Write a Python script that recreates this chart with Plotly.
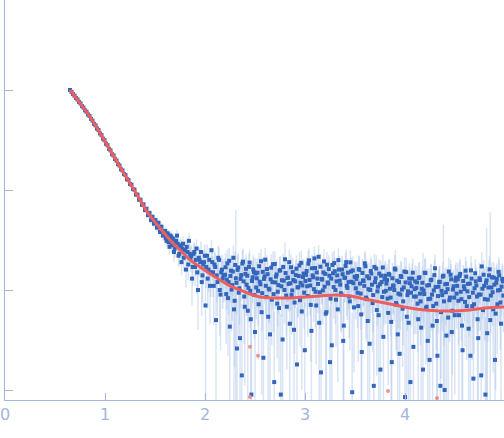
import plotly.graph_objects as go

# scattering curve, intensity in arbitrary units (first point = 1000)
q_low = [0.650, 0.665, 0.680, 0.695, 0.710, 0.725, 0.740, 0.755, 0.770, 0.785,
         0.800, 0.815, 0.830, 0.845, 0.860, 0.875, 0.890, 0.905, 0.920, 0.935,
         0.950, 0.965, 0.980, 0.995, 1.010, 1.025, 1.040, 1.055, 1.070, 1.085,
         1.100, 1.115, 1.130, 1.145, 1.160, 1.175, 1.190, 1.205, 1.220, 1.235,
         1.250, 1.265, 1.280, 1.295, 1.310, 1.325, 1.340, 1.355, 1.370, 1.385,
         1.400, 1.415, 1.430, 1.445, 1.460, 1.475, 1.490, 1.505, 1.520, 1.535,
         1.550, 1.565, 1.580]
i_low = [1000, 958, 910, 878, 831, 804, 760, 733, 690, 667,
         626, 606, 569, 550, 514, 494, 459, 443, 411, 397,
         368, 354, 326, 315, 290, 280, 258, 249, 228, 222,
         204, 197, 181, 176, 161, 157, 144, 141, 128, 126,
         115, 113, 102, 101, 90, 90, 80, 80, 71, 72,
         63, 65, 56, 59, 50, 54, 46, 50, 42, 47,
         38, 43, 35]
e_low = [6, 6, 6, 6, 5, 5, 5, 5, 5, 5, 5, 5, 4, 4, 4, 4, 4, 4, 4, 4,
         4, 4, 4, 4, 3, 3, 3, 3, 3, 3, 3, 3, 3, 3, 3, 3, 3, 3, 3, 3,
         3, 3, 3, 3, 3, 3, 3, 3, 3, 3, 3.5, 3.5, 3.5, 3.5, 4, 4, 4, 4, 4, 4,
         4, 4, 4]

q_mid = [1.600, 1.615, 1.630, 1.645, 1.660, 1.675, 1.690, 1.705, 1.720, 1.735,
         1.750, 1.765, 1.780, 1.795, 1.810, 1.825, 1.840, 1.855, 1.870, 1.885,
         1.900, 1.915, 1.930, 1.945, 1.960, 1.975, 1.990, 2.005, 2.020, 2.035,
         2.050, 2.065, 2.080, 2.095, 2.110, 2.125, 2.140, 2.155, 2.170, 2.185,
         1.6075, 1.6225, 1.6375, 1.6525, 1.6675, 1.6825, 1.6975, 1.7125, 1.7275, 1.7425,
         1.7575, 1.7725, 1.7875, 1.8025, 1.8175, 1.8325, 1.8475, 1.8625, 1.8775, 1.8925,
         1.9075, 1.9225, 1.9375, 1.9525, 1.9675, 1.9825, 1.9975, 2.0125, 2.0275, 2.0425,
         2.0575, 2.0725, 2.0875, 2.1025, 2.1175, 2.1325, 2.1475, 2.1625, 2.1775]
i_mid = [39, 31, 36, 27, 34, 33, 24, 30, 35, 22,
         27, 19, 29, 25, 16, 24, 31, 21, 13, 23,
         17, 26, 10, 20, 24, 14, 19, 7, 22, 16,
         11, 25, 15, 18, 5, 12, 20, 9, 16, 14,
         33, 37, 30, 35, 28, 32, 26, 31, 29, 23,
         28, 26, 21, 25, 27, 18, 23, 22, 17, 24,
         20, 15, 21, 19, 12, 18, 22, 17, 13, 20,
         15, 19, 11, 17, 14, 21, 10, 15, 13]
e_mid = [4, 4, 4, 4.5, 4.5, 4.5, 5, 5, 5, 5, 5, 5, 5.5, 5.5, 5.5, 5.5, 6, 6, 6, 6,
         6, 6, 6, 6, 6.5, 6.5, 6.5, 6.5, 6.5, 6.5, 6.5, 6.5, 6.5, 6.5, 6.5, 6.5,
         6.5, 6.5, 6.5, 6.5,
         4, 4, 4, 4.5, 4.5, 4.5, 5, 5, 5, 5, 5, 5, 5.5, 5.5, 5.5, 5.5, 6, 6, 6, 6,
         6, 6, 6, 6, 6.5, 6.5, 6.5, 6.5, 6.5, 6.5, 6.5, 6.5, 6.5, 6.5, 6.5, 6.5,
         6.5, 6.5, 6.5]

q_high = [2.200, 2.212, 2.224, 2.236, 2.248, 2.260, 2.272, 2.284, 2.296,
          2.308, 2.320, 2.332, 2.344, 2.356, 2.368, 2.380, 2.392, 2.404,
          2.416, 2.428, 2.440, 2.452, 2.464, 2.476, 2.488, 2.500,
          2.512, 2.524, 2.536, 2.548, 2.560, 2.572, 2.584, 2.596, 2.608, 2.620,
          2.632, 2.644, 2.656, 2.668, 2.680, 2.692, 2.704, 2.716, 2.728, 2.740,
          2.752, 2.764, 2.776, 2.788, 2.800, 2.812, 2.824, 2.836, 2.848, 2.860,
          2.872, 2.884, 2.896, 2.908, 2.920, 2.932, 2.944, 2.956, 2.968, 2.980,
          2.992,
          3.004, 3.016, 3.028, 3.040, 3.052, 3.064, 3.076, 3.088, 3.100, 3.112,
          3.124, 3.136, 3.148, 3.160, 3.172, 3.184, 3.196, 3.208, 3.220, 3.232,
          3.244, 3.256, 3.268, 3.280, 3.292, 3.304, 3.316, 3.328, 3.340, 3.352,
          3.364, 3.376, 3.388, 3.400, 3.412, 3.424, 3.436, 3.448, 3.460, 3.472,
          3.484, 3.496,
          3.508, 3.520, 3.532, 3.544, 3.556, 3.568, 3.580, 3.592, 3.604, 3.616,
          3.628, 3.640, 3.652, 3.664, 3.676, 3.688, 3.700, 3.712, 3.724, 3.736,
          3.748, 3.760, 3.772, 3.784, 3.796,
          3.808, 3.820, 3.832, 3.844, 3.856, 3.868, 3.880, 3.892, 3.904, 3.916,
          3.928, 3.940, 3.952, 3.964, 3.976, 3.988, 4.000, 4.012, 4.024, 4.036,
          4.048, 4.060, 4.072, 4.084, 4.096,
          4.108, 4.120, 4.132, 4.144, 4.156, 4.168, 4.180, 4.192, 4.204, 4.216,
          4.228, 4.240, 4.252, 4.264, 4.276, 4.288, 4.300, 4.312, 4.324, 4.336,
          4.348, 4.360, 4.372, 4.384, 4.396, 4.408, 4.420, 4.432, 4.444, 4.456,
          4.468, 4.480, 4.492, 4.504,
          4.516, 4.528, 4.540, 4.552, 4.564, 4.576, 4.588, 4.600, 4.612, 4.624,
          4.636, 4.648, 4.660, 4.672, 4.684, 4.696, 4.708, 4.720, 4.732, 4.744,
          4.756, 4.768, 4.780, 4.792, 4.804, 4.816, 4.828, 4.840, 4.852, 4.864,
          4.876, 4.888, 4.900, 4.912, 4.924, 4.936, 4.948, 4.960, 4.972, 4.984]
i_high = [14.2, 9.1, 18.5, 12.0, 4.3, 15.6, 11.2, 21.0, 7.8,
          13.1, 2.6, 16.8, 10.4, 12.9, 1.4, 19.2, 8.6, 14.5,
          11.3, 6.2, 17.0, 9.8, 0.9, 13.4, 15.1, 3.8,
          10.6, 14.9, 7.2, 12.1, 19.4, 9.3, 2.1, 13.7, 11.0, 16.2,
          5.4, 10.1, 12.8, 8.0, 18.1, 1.2, 11.9, 14.3, 9.6, 6.6,
          15.8, 10.9, 3.2, 12.4, 20.3, 8.8, 13.2, 11.5, 4.6, 16.9,
          9.9, 12.6, 7.5, 14.1, 1.8, 10.7, 17.6, 11.8, 6.1, 13.5,
          9.4,
          12.3, 15.5, 8.7, 19.8, 11.1, 3.9, 14.0, 10.2, 16.6, 7.0,
          13.0, 21.5, 9.5, 1.5, 12.7, 15.0, 10.8, 5.8, 17.9, 11.6,
          13.9, 8.2, 2.8, 14.7, 18.6, 10.0, 12.2, 6.4, 16.0, 11.3,
          9.0, 14.4, 4.4, 13.3, 19.0, 10.5, 12.0, 7.7, 15.3, 0.95,
          11.7, 13.6,
          10.4, 13.8, 6.9, 15.9, 9.2, 2.4, 12.5, 11.0, 17.3, 8.1,
          4.9, 13.1, 10.0, 14.6, 7.4, 1.1, 12.0, 16.4, 9.7, 5.6,
          11.4, 13.9, 8.5, 3.4, 12.8,
          9.8, 12.6, 5.9, 14.2, 8.4, 1.9, 11.1, 10.0, 16.0, 7.1,
          3.6, 12.0, 9.0, 13.5, 6.5, 10.6, 0.85, 15.1, 8.9, 4.7,
          11.7, 9.4, 13.0, 2.7, 10.2,
          8.6, 11.9, 5.1, 13.4, 7.7, 10.3, 1.6, 9.1, 14.8, 6.8,
          3.1, 11.2, 8.2, 12.7, 4.4, 9.9, 16.5, 7.3, 2.2, 10.8,
          12.1, 6.0, 8.9, 13.9, 1.0, 9.5, 11.5, 5.3, 7.9, 14.2,
          3.8, 10.1, 8.4, 12.4,
          9.2, 12.8, 5.6, 14.5, 8.1, 2.5, 10.9, 7.6, 13.6, 9.7,
          4.1, 11.6, 15.7, 6.9, 1.3, 10.4, 12.2, 8.6, 3.3, 13.1,
          9.0, 17.2, 6.3, 11.0, 0.9, 12.5, 8.0, 14.0, 5.0, 10.6,
          9.5, 13.3, 2.0, 11.8, 7.2, 15.2, 10.0, 4.6, 12.9, 8.8]
e_high = [6.5, 6.2, 6.8, 6.4, 6.0, 6.6, 6.3, 7.0, 6.1,
          50, 5.6, 6.4, 5.9, 6.2, 5.8, 6.6, 5.7, 6.3,
          5.8, 5.5, 6.2, 5.6, 5.4, 6.0, 5.9, 5.3,
          5.5, 5.9, 5.2, 5.6, 6.3, 5.4, 5.0, 5.8, 5.3, 6.0,
          5.1, 5.5, 5.7, 5.2, 6.1, 4.9, 5.4, 5.8, 5.3, 5.1,
          5.9, 5.5, 5.0, 5.6, 9.5, 5.3, 5.7, 5.4, 5.0, 6.0,
          5.4, 5.6, 5.2, 5.8, 4.9, 5.3, 6.2, 5.5, 5.1, 5.7,
          5.3,
          5.6, 5.9, 5.3, 6.4, 5.5, 5.1, 5.8, 5.4, 6.0, 5.2,
          5.7, 6.6, 5.4, 5.0, 5.6, 5.9, 5.5, 5.2, 6.2, 5.6,
          5.8, 5.3, 5.0, 5.9, 6.3, 5.4, 5.7, 5.2, 6.0, 5.5,
          5.3, 5.8, 5.1, 5.7, 6.4, 5.5, 5.6, 5.2, 5.9, 5.0,
          5.5, 5.8,
          5.3, 5.7, 5.0, 5.9, 5.2, 4.8, 5.5, 5.4, 6.1, 5.1,
          4.9, 5.6, 5.2, 5.8, 5.0, 4.7, 5.4, 6.0, 5.3, 4.9,
          5.4, 5.7, 5.1, 4.8, 5.5,
          5.2, 5.6, 4.8, 5.9, 5.0, 4.6, 5.3, 5.1, 9.0, 4.9,
          4.7, 5.4, 5.0, 5.7, 4.8, 5.2, 4.5, 6.0, 5.0, 4.7,
          5.3, 5.1, 5.5, 4.6, 5.2,
          5.0, 5.5, 4.7, 5.7, 4.9, 5.2, 22, 5.0, 6.0, 4.8,
          4.6, 5.3, 4.9, 5.6, 4.6, 5.1, 6.2, 4.8, 4.5, 5.2,
          5.4, 4.7, 5.0, 31, 4.4, 5.1, 5.3, 4.7, 4.9, 5.9,
          4.6, 5.1, 4.9, 5.5,
          5.1, 5.7, 4.8, 6.0, 5.0, 4.6, 5.3, 4.9, 5.8, 5.1,
          4.7, 5.4, 6.2, 4.9, 4.5, 5.2, 5.5, 5.0, 4.6, 5.6,
          5.1, 6.6, 4.9, 5.3, 4.5, 29, 5.0, 5.8, 55, 5.2,
          5.1, 5.6, 4.6, 5.4, 4.9, 6.1, 5.2, 4.7, 5.5, 5.0]

# second, interleaved run of the high-q points
q_high2 = [2.206, 2.218, 2.230, 2.242, 2.254, 2.266, 2.278, 2.290, 2.302,
           2.314, 2.326, 2.338, 2.350, 2.362, 2.374, 2.386, 2.398, 2.410,
           2.422, 2.434, 2.446, 2.458, 2.470, 2.482, 2.494, 2.506,
           2.518, 2.530, 2.542, 2.554, 2.566, 2.578, 2.590, 2.602, 2.614, 2.626,
           2.638, 2.650, 2.662, 2.674, 2.686, 2.698, 2.710, 2.722, 2.734, 2.746,
           2.758, 2.770, 2.782, 2.794, 2.806, 2.818, 2.830, 2.842, 2.854, 2.866,
           2.878, 2.890, 2.902, 2.914, 2.926, 2.938, 2.950, 2.962, 2.974, 2.986,
           2.998,
           3.010, 3.022, 3.034, 3.046, 3.058, 3.070, 3.082, 3.094, 3.106, 3.118,
           3.130, 3.142, 3.154, 3.166, 3.178, 3.190, 3.202, 3.214, 3.226, 3.238,
           3.250, 3.262, 3.274, 3.286, 3.298, 3.310, 3.322, 3.334, 3.346, 3.358,
           3.370, 3.382, 3.394, 3.406, 3.418, 3.430, 3.442, 3.454, 3.466, 3.478,
           3.490, 3.502,
           3.514, 3.526, 3.538, 3.550, 3.562, 3.574, 3.586, 3.598, 3.610, 3.622,
           3.634, 3.646, 3.658, 3.670, 3.682, 3.694, 3.706, 3.718, 3.730, 3.742,
           3.754, 3.766, 3.778, 3.790, 3.802,
           3.814, 3.826, 3.838, 3.850, 3.862, 3.874, 3.886, 3.898, 3.910, 3.922,
           3.934, 3.946, 3.958, 3.970, 3.982, 3.994, 4.006, 4.018, 4.030, 4.042,
           4.054, 4.066, 4.078, 4.090, 4.102,
           4.114, 4.126, 4.138, 4.150, 4.162, 4.174, 4.186, 4.198, 4.210, 4.222,
           4.234, 4.246, 4.258, 4.270, 4.282, 4.294, 4.306, 4.318, 4.330, 4.342,
           4.354, 4.366, 4.378, 4.390, 4.402, 4.414, 4.426, 4.438, 4.450, 4.462,
           4.474, 4.486, 4.498, 4.510,
           4.522, 4.534, 4.546, 4.558, 4.570, 4.582, 4.594, 4.606, 4.618, 4.630,
           4.642, 4.654, 4.666, 4.678, 4.690, 4.702, 4.714, 4.726, 4.738, 4.750,
           4.762, 4.774, 4.786, 4.798, 4.810, 4.822, 4.834, 4.846, 4.858, 4.870,
           4.882, 4.894, 4.906, 4.918, 4.930, 4.942, 4.954, 4.966, 4.978]
i_high2 = [16.9, 12.7, 8.3, 19.6, 13.8, 10.1, 15.3, 6.4, 17.8,
           11.8, 15.9, 9.4, 3.3, 14.1, 18.4, 12.2, 6.8, 16.3,
           13.9, 10.5, 18.8, 5.1, 12.3, 16.1, 8.9, 14.6,
           13.1, 9.8, 17.3, 11.4, 6.0, 15.2, 12.9, 20.1, 8.5, 14.4,
           10.3, 3.6, 16.7, 12.0, 9.1, 18.2, 13.6, 7.3, 11.2, 15.6,
           0.9, 12.5, 17.0, 10.0, 14.8, 6.8, 13.3, 19.0, 11.7, 8.9,
           15.1, 4.0, 12.2, 16.3, 10.6, 13.8, 7.9, 18.7, 11.1, 14.6,
           2.5,
           14.2, 10.9, 18.3, 12.6, 7.1, 16.5, 13.4, 20.7, 9.6, 15.0,
           11.5, 4.7, 17.1, 12.9, 9.9, 19.3, 14.5, 6.0, 11.9, 16.2,
           1.9, 13.0, 17.8, 10.7, 15.4, 8.0, 14.0, 19.9, 12.4, 9.3,
           16.0, 3.1, 13.2, 17.4, 11.0, 14.9, 8.6, 18.9, 12.1, 15.7,
           6.7, 13.5,
           12.9, 9.4, 16.2, 11.6, 5.7, 14.8, 12.3, 18.5, 8.4, 13.7,
           10.2, 2.9, 15.5, 11.3, 8.9, 17.0, 13.1, 6.3, 10.8, 14.6,
           1.6, 12.0, 16.8, 9.6, 13.9,
           11.6, 8.2, 14.5, 10.3, 4.8, 13.1, 11.0, 16.4, 7.4, 12.4,
           9.2, 2.3, 13.8, 10.1, 7.7, 15.3, 11.9, 5.4, 9.7, 13.0,
           1.2, 10.9, 14.9, 8.6, 12.2,
           10.5, 7.3, 13.2, 9.2, 4.2, 11.8, 9.9, 14.9, 6.6, 11.1,
           8.1, 2.0, 12.5, 9.0, 6.9, 14.1, 10.7, 4.9, 8.7, 12.0,
           1.1, 9.8, 13.6, 7.7, 11.4, 3.5, 10.2, 15.3, 8.4, 12.8,
           6.2, 10.9, 5.6, 13.3,
           11.0, 7.8, 13.8, 9.6, 4.4, 12.3, 10.2, 15.6, 6.9, 11.5,
           8.5, 2.2, 13.0, 9.4, 7.2, 14.7, 11.1, 5.1, 9.0, 12.6,
           1.4, 10.3, 14.2, 8.1, 11.8, 3.7, 10.6, 16.1, 8.8, 13.4,
           6.4, 11.3, 5.8, 12.9, 9.9, 14.0, 7.5, 10.8, 12.2]
e_high2 = [6.6, 6.3, 6.1, 6.9, 6.4, 6.2, 6.7, 6.0, 6.8,
           6.1, 6.5, 5.9, 5.6, 6.3, 6.7, 6.0, 5.7, 6.4,
           6.0, 5.7, 6.4, 5.4, 5.9, 6.2, 5.6, 6.1,
           5.8, 5.4, 6.1, 5.6, 5.1, 5.9, 5.7, 6.3, 5.3, 5.8,
           5.5, 4.9, 6.0, 5.6, 5.3, 6.2, 5.8, 5.2, 5.5, 5.9,
           4.8, 5.6, 6.0, 5.4, 5.8, 5.2, 5.7, 6.2, 5.5, 5.3,
           5.9, 4.9, 5.6, 6.0, 5.4, 5.7, 5.2, 6.1, 5.5, 5.8,
           5.0,
           5.9, 5.5, 6.2, 5.7, 5.2, 6.0, 5.8, 6.4, 5.4, 5.9,
           5.6, 5.0, 6.1, 5.7, 5.4, 6.3, 5.9, 5.2, 5.6, 6.0,
           4.9, 5.7, 6.1, 5.5, 5.9, 5.3, 5.8, 6.3, 5.6, 5.4,
           6.0, 5.0, 5.7, 6.1, 5.5, 5.8, 5.3, 6.2, 5.6, 5.9,
           5.2, 5.7,
           5.6, 5.2, 5.9, 5.4, 4.9, 5.8, 5.5, 6.1, 5.1, 5.6,
           5.3, 4.7, 5.8, 5.4, 5.1, 6.0, 5.6, 4.9, 5.3, 5.7,
           4.6, 5.4, 5.9, 5.2, 5.6,
           5.4, 5.0, 5.8, 5.2, 4.7, 5.5, 5.3, 5.9, 4.9, 5.4,
           5.1, 4.6, 5.6, 5.2, 4.9, 5.8, 5.4, 4.8, 5.1, 5.5,
           4.5, 5.2, 5.7, 5.0, 5.4,
           5.2, 4.9, 5.6, 5.1, 4.6, 5.4, 5.2, 5.8, 4.8, 5.3,
           5.0, 4.5, 5.5, 5.1, 4.8, 5.7, 5.2, 4.7, 5.0, 5.4,
           4.4, 5.1, 5.6, 4.9, 5.3, 4.6, 5.2, 5.8, 5.0, 5.4,
           4.8, 5.2, 4.7, 5.5,
           5.3, 5.0, 5.7, 5.2, 4.7, 5.5, 5.3, 5.9, 4.9, 5.4,
           5.1, 4.6, 5.6, 5.2, 4.9, 5.8, 5.4, 4.8, 5.1, 5.5,
           4.5, 5.2, 5.7, 5.0, 5.4, 4.7, 5.3, 6.0, 5.1, 5.5,
           4.9, 5.3, 4.8, 5.5, 5.2, 5.7, 5.0, 5.3, 5.4]

# points left out of the fit
q_out = [2.45, 2.53, 2.45, 3.83, 4.32]
i_out = [2.7, 2.2, 0.85, 0.98, 0.83]

# fitted model curve
fit_q = [0.65, 0.75, 0.85, 0.95, 1.05, 1.15, 1.25, 1.35, 1.45, 1.55, 1.65, 1.75,
         1.85, 1.95, 2.05, 2.15, 2.25, 2.35, 2.45, 2.55, 2.7, 2.85, 3.0, 3.15,
         3.3, 3.45, 3.6, 3.75, 3.9, 4.05, 4.2, 4.35, 4.5, 4.65, 4.8, 4.99]
fit_i = [1000, 741, 537, 372, 251, 170, 117, 79.4, 55.0, 41.7, 31.6, 25.1,
         20.0, 17.0, 14.5, 12.6, 11.0, 10.0, 9.12, 8.51, 8.32, 8.32, 8.51, 8.71,
         8.91, 8.71, 8.13, 7.59, 7.08, 6.61, 6.31, 6.17, 6.17, 6.31, 6.61, 6.76]

q = q_low + q_mid + q_high + q_high2
inten = i_low + i_mid + i_high + i_high2
err = e_low + e_mid + e_high + e_high2

axis_col = "#a3b5dc"

fig = go.Figure()
fig.add_trace(go.Scatter(
    x=q, y=inten, mode="markers",
    marker=dict(symbol="square", size=4, color="#3366bb"),
    error_y=dict(type="data", array=err, visible=True, color="rgba(170,195,232,0.45)",
                 thickness=1.5, width=0),
    showlegend=False))
fig.add_trace(go.Scatter(
    x=q_out, y=i_out, mode="markers",
    marker=dict(symbol="circle", size=4, color="#f29090"),
    showlegend=False))
fig.add_trace(go.Scatter(
    x=fit_q, y=fit_i, mode="lines", line=dict(color="#ec5f5f", width=3, shape="spline"),
    showlegend=False))

fig.update_layout(
    width=504, height=438,
    margin=dict(l=5, r=0, t=0, b=38, autoexpand=False),
    plot_bgcolor="white", paper_bgcolor="white",
    font=dict(family="DejaVu Sans", size=16, color=axis_col),
)
fig.update_xaxes(range=[0, 4.99], showgrid=False, zeroline=False, automargin=False,
                 showline=True, linecolor=axis_col, linewidth=1,
                 ticks="inside", ticklen=7, tickcolor=axis_col,
                 tickvals=[0, 1, 2, 3, 4], ticklabeloverflow="allow")
fig.update_yaxes(type="log", range=[-0.1, 3.9], showgrid=False, zeroline=False,
                 automargin=False,
                 showline=True, linecolor=axis_col, linewidth=1,
                 ticks="inside", ticklen=8, tickcolor=axis_col,
                 tickvals=[1, 10, 100, 1000], showticklabels=False)

# drop the default 8px page margin so the chart sits at the window corner
fig.write_html("out.html", config={"displayModeBar": False},
               post_script="document.body.style.margin='0';")
